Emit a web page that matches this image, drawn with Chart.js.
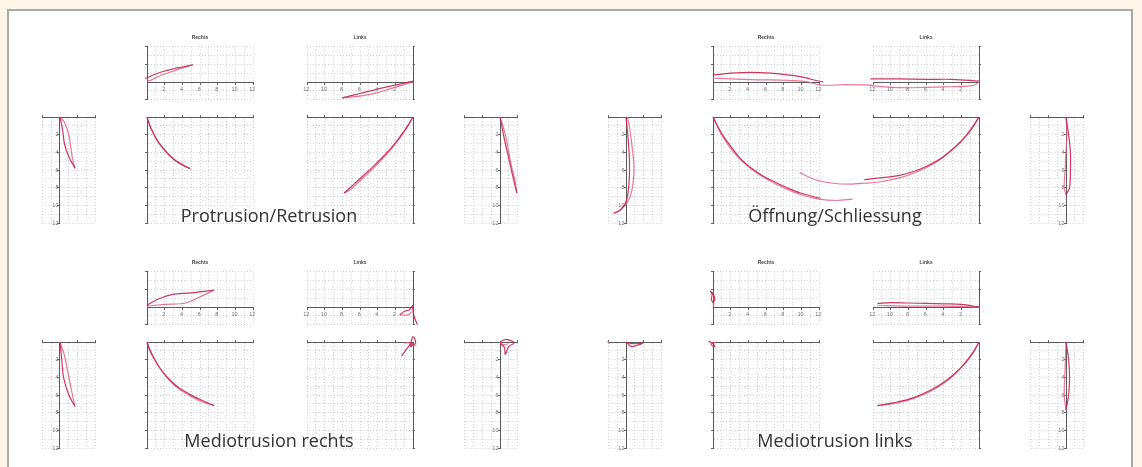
<!DOCTYPE html>
<html lang="de">
<head>
<meta charset="UTF-8">
<title>Bewegungsspuren</title>
<script src="https://cdn.jsdelivr.net/npm/chart.js"></script>
<style>
  html, body { margin: 0; padding: 0; background: #fdf5e8; width: 1142px; height: 467px; overflow: hidden; }
  #panel { position: absolute; left: 7px; top: 9px; width: 1122px; height: 480px; background: #fff; border: 2px solid #a9a9a9; }
  canvas.mini { position: absolute; }
  .gtitle { position: absolute; font-family: "Open Sans", sans-serif; font-size: 18px; color: #333;
            transform: translate(-50%, -50%); white-space: nowrap; }
</style>
</head>
<body>
<div id="panel"></div>
<script>
  // tick labels
  const evenTicks = [2, 4, 6, 8, 10, 12];
  const sideXTicks = [-2, 2, 4];
  const topYTicks = [-2, 2, 4];

  const groupNames = ['Protrusion/Retrusion', 'Öffnung/Schliessung', 'Mediotrusion rechts', 'Mediotrusion links'];
  const sideTitles = ['Rechts', 'Links'];

  // Protrusion/Retrusion  [x, y] in mm
  const prSideL_a = [[0,0],[0.3,1.5],[0.5,3.0],[1.0,4.5],[1.7,5.8]];
  const prSideL_b = [[1.7,5.8],[1.4,4.6],[1.2,3.3],[1.0,2.0],[0.5,0.6],[0,0]];
  const prTopR_a = [[-0.2,0.4],[1,0.9],[2,1.25],[3,1.5],[4,1.7],[5.2,1.95]];
  const prTopR_b = [[5.2,1.95],[4,1.6],[3,1.25],[2,0.9],[1,0.5],[0.3,0.15],[0,0.3]];
  const prBotR_a = [[0,0],[0.3,0.9],[0.7,1.8],[1.2,2.7],[1.8,3.5],[2.5,4.3],[3.3,5.0],[4.1,5.5],[4.9,5.85]];
  const prBotR_b = [[4.9,5.85],[4.0,5.35],[3.1,4.8],[2.3,4.1],[1.6,3.3],[1.0,2.4],[0.5,1.4],[0.15,0.5],[0,0]];
  const prTopL_a = [[0,0.1],[2,-0.35],[4,-0.8],[6,-1.3],[8,-1.8]];
  const prTopL_b = [[8,-1.8],[6,-1.6],[4,-1.2],[2.5,-0.75],[1.2,-0.35],[0,0]];
  const prBotL_a = [[0,0],[0.6,1.0],[1.3,2.0],[2.3,3.3],[3.4,4.5],[4.6,5.7],[5.8,6.8],[6.9,7.8],[7.8,8.6]];
  const prBotL_b = [[7.8,8.6],[7.2,8.3],[6.2,7.4],[5.0,6.3],[3.8,5.1],[2.6,3.8],[1.5,2.4],[0.7,1.2],[0,0]];
  const prSideR_a = [[0,0],[-0.3,1.5],[-0.6,3],[-1.0,4.7],[-1.4,6.5],[-1.9,8.6]];
  const prSideR_b = [[-1.9,8.6],[-1.7,7.2],[-1.3,5.6],[-1.0,4.0],[-0.7,2.4],[-0.3,0.9],[0,0]];

  // Öffnung/Schliessung
  const oeSideL_a = [[0,0],[0.2,2],[0.35,4],[0.4,6],[0.3,8],[0,9.6],[-0.7,10.6],[-1.4,10.9]];
  const oeSideL_b = [[-1.4,10.9],[-0.4,10.3],[0.4,9.2],[0.8,7.5],[0.9,5.5],[0.7,3.5],[0.45,1.5],[0.2,0.2],[0,0]];
  const oeTopR_a = [[0,0.8],[2,1.0],[4.2,1.1],[6.5,1.0],[9.9,0.6],[12.5,0],[14.8,-0.1],[18,-0.35]];
  const oeTopR_b = [[18,-0.35],[15,-0.3],[12.2,-0.35],[10.5,0.05],[8,0.2],[5,0.25],[2,0.35],[0,0.45]];
  const oeBotR_a = [[0,0],[0.5,1.0],[1.2,2.2],[2.3,3.7],[3.2,4.8],[4.2,5.7],[5.7,6.7],[7.3,7.5],[8.6,8.1],[9.9,8.6],[12.2,9.2],[14,9.35],[15.8,9.3]];
  const oeBotR_b = [[15.8,9.3],[14,9.45],[12,9.3],[10,8.8],[8,8.0],[6,7.0],[4.5,6.0],[3,4.7],[1.8,3.3],[0.8,1.7],[0.2,0.4],[0,0]];
  const oeTopL_a = [[0,0.1],[3,0.3],[6,0.3],[9,0.35],[12.3,0.35]];
  const oeTopL_b = [[12.3,-0.4],[10,-0.6],[8,-0.65],[6,-0.6],[4,-0.55],[2,-0.5],[0.6,-0.4],[0,0]];
  const oeBotL_a = [[0,0],[0.6,1.0],[1.5,2.2],[2.7,3.4],[4.2,4.6],[6,5.6],[7.5,6.2],[9,6.6],[11.2,6.9],[13,7.1],[14.7,7.2],[16.5,7.1],[18.5,6.8],[20.3,6.3]];
  const oeBotL_b = [[20.3,6.3],[18.5,7.1],[16.5,7.5],[14.7,7.6],[13,7.5],[11,7.3],[9,6.9],[7,6.2],[5,5.2],[3.5,4.1],[2,2.7],[0.8,1.2],[0,0]];
  const oeSideR_a = [[0,0],[-0.3,2],[-0.5,4],[-0.5,6],[-0.4,8],[0,8.8]];
  const oeSideR_b = [[0,8.8],[0.2,8.0],[0.1,6],[0,4],[-0.1,2],[0,0]];

  // Mediotrusion rechts
  const mrSideL_a = [[0,0],[0.2,2],[0.4,4],[1.0,6],[1.7,7.3]];
  const mrSideL_b = [[1.7,7.3],[1.3,5.5],[0.9,3.5],[0.5,1.5],[0,0]];
  const mrTopR_a = [[0,0.2],[1.3,0.9],[2.8,1.4],[5,1.6],[7.6,1.9]];
  const mrTopR_b = [[7.6,1.9],[5.9,1.1],[4.4,0.45],[2,0.3],[0,0.1]];
  const mrBotR_a = [[0,0],[0.3,0.9],[0.8,1.9],[1.5,3.0],[2.4,4.1],[3.5,5.1],[4.8,5.9],[6.2,6.6],[7.6,7.2]];
  const mrBotR_b = [[7.6,7.2],[6.3,6.8],[4.9,6.1],[3.6,5.3],[2.5,4.3],[1.6,3.2],[0.9,2.0],[0.35,0.9],[0,0]];
  const mrTopL_a = [[1.5,-0.9],[1.0,-0.5],[0.4,-0.3],[0,0.2],[0,-0.5],[-0.2,-1.3],[-0.5,-2.0]];
  const mrTopL_b = [[1.5,-0.9],[0.6,-0.9],[0.2,-0.6]];
  const mrBotL_a = [[1.3,1.6],[0.8,0.9],[0.3,0.2],[0,-0.6],[-0.3,0.1],[0.3,0.5],[0,0]];
  const mrBotL_b = [[0.9,0.1],[0.4,0.1],[0,0.3],[-0.4,0.4]];
  const mrSideR_a = [[0,0],[-0.7,-0.3],[-1.6,0.1],[-1.0,0.5],[-0.6,1.4],[-0.5,0.6],[0,0.2]];
  const mrSideR_b = [[0,0],[-0.4,0.3],[-0.9,0.2]];

  // Mediotrusion links
  const mlSideL_a = [[0,0],[0.6,0.5],[1.2,0.4],[1.9,0.15],[1.2,0.2],[0.5,0.15],[0,0]];
  const mlSideL_b = [[-2.1,0],[-1.9,0.15],[-2.0,-0.1]];
  const mlTopR_a = [[0,0.5],[-0.2,0.9],[-0.1,1.4],[-0.3,1.8],[0.1,1.3],[0.2,0.8],[0,0.5]];
  const mlTopR_b = [[0,0],[0.1,0.3],[0,0.6]];
  const mlBotR_a = [[-0.5,-0.1],[0,0.2],[0.2,0.5],[-0.2,0.3],[0,0]];
  const mlBotR_b = [[0,0],[0.3,0.1]];
  const mlTopL_a = [[11.5,0.4],[10,0.5],[8,0.45],[6,0.4],[4,0.35],[2,0.3],[0,0]];
  const mlTopL_b = [[11.5,0.2],[8,0.1],[4,0.1],[0,0]];
  const mlBotL_a = [[0,0],[0.7,1.2],[1.7,2.5],[3,3.8],[4.5,4.9],[6.2,5.8],[8,6.5],[9.8,6.9],[11.5,7.2]];
  const mlBotL_b = [[11.5,7.2],[9.8,7.0],[8,6.6],[6.2,5.9],[4.5,5.0],[3,3.9],[1.7,2.6],[0.7,1.3],[0,0]];
  const mlSideR_a = [[0,0],[-0.3,2],[-0.4,4],[-0.3,6],[0,7.7]];
  const mlSideR_b = [[0,7.7],[0.2,6],[0.1,3],[0,0]];

  const groupSeries = [
    { sideL: [prSideL_a, prSideL_b], topR: [prTopR_a, prTopR_b], botR: [prBotR_a, prBotR_b],
      topL: [prTopL_a, prTopL_b], botL: [prBotL_a, prBotL_b], sideR: [prSideR_a, prSideR_b] },
    { sideL: [oeSideL_a, oeSideL_b], topR: [oeTopR_a, oeTopR_b], botR: [oeBotR_a, oeBotR_b],
      topL: [oeTopL_a, oeTopL_b], botL: [oeBotL_a, oeBotL_b], sideR: [oeSideR_a, oeSideR_b] },
    { sideL: [mrSideL_a, mrSideL_b], topR: [mrTopR_a, mrTopR_b], botR: [mrBotR_a, mrBotR_b],
      topL: [mrTopL_a, mrTopL_b], botL: [mrBotL_a, mrBotL_b], sideR: [mrSideR_a, mrSideR_b] },
    { sideL: [mlSideL_a, mlSideL_b], topR: [mlTopR_a, mlTopR_b], botR: [mlBotR_a, mlBotR_b],
      topL: [mlTopL_a, mlTopL_b], botL: [mlBotL_a, mlBotL_b], sideR: [mlSideR_a, mlSideR_b] }
  ];

  // layout
  const U = 106 / 12;                   // px per mm
  const groupOffsets = [[0, 0], [566, 0], [0, 225], [566, 225]];
  const groupTitlePos = [269, 215];
  const origins = { sideL: [60, 117], topR: [147, 82], botR: [147, 117], topL: [413, 82], botL: [413, 117], sideR: [500, 117] };
  const kinds = {
    sideL: { x: [-2, 4, false], y: [0, 12, true], xPos: 'top', yPos: { x: 0 }, lu: 2, tu: 0, xl: sideXTicks, yl: evenTicks },
    sideR: { x: [-2, 4, true], y: [0, 12, true], xPos: 'top', yPos: { x: 0 }, lu: 4, tu: 0, xl: sideXTicks, yl: evenTicks },
    topR: { x: [0, 12, false], y: [-2, 4, false], xPos: { y: 0 }, yPos: 'left', lu: 0, tu: 4, xl: evenTicks, yl: topYTicks, title: 0 },
    topL: { x: [0, 12, true], y: [-2, 4, false], xPos: { y: 0 }, yPos: 'right', lu: 12, tu: 4, xl: evenTicks, yl: topYTicks, title: 1 },
    botR: { x: [0, 12, false], y: [0, 12, true], xPos: 'top', yPos: 'left', lu: 0, tu: 0, xl: evenTicks, yl: evenTicks },
    botL: { x: [0, 12, true], y: [0, 12, true], xPos: 'top', yPos: 'right', lu: 12, tu: 0, xl: evenTicks, yl: evenTicks }
  };
  // extra room where traces run past the axes (Öffnung/Schliessung)
  const extraPad = { '1.topR': { right: 62 }, '1.botR': { right: 42 }, '1.botL': { left: 84 } };

  const lineColors = ['rgba(198,36,78,0.9)', 'rgba(226,96,128,0.85)'];
  const TITLE_H = 5 * 1.2 + 6;

  function axis(range, position, labels) {
    const edge = typeof position === 'string';
    return {
      type: 'linear', min: range[0], max: range[1], reverse: range[2], position,
      afterFit: edge ? (s => { if (s.isHorizontal()) s.height = 0; else s.width = 0; }) : undefined,
      ticks: {
        stepSize: 1, autoSkip: false, maxRotation: 0, padding: 2, color: '#707070',
        font: { family: 'Liberation Sans', size: 5.5 },
        // centred y axes put their labels right on the line, so pad them with a space
        callback: v => labels.includes(v) ? (edge ? String(v) : v + ' ') : ''
      },
      grid: {
        color: '#d0d0d0', lineWidth: 1, tickLength: 2, tickWidth: 1,
        tickColor: c => (c.tick && labels.includes(c.tick.value)) ? '#666' : 'rgba(0,0,0,0)'
      },
      border: { color: '#5a5a5a', width: 1, dash: [1, 2] }
    };
  }

  function miniChart(g, key) {
    const k = kinds[key];
    const [ox, oy] = [origins[key][0] + groupOffsets[g][0], origins[key][1] + groupOffsets[g][1]];
    const w = (k.x[1] - k.x[0]) * U, h = (k.y[1] - k.y[0]) * U;
    const left = ox - k.lu * U, top = oy - k.tu * U;
    const ex = extraPad[g + '.' + key] || {};
    const th = k.title !== undefined ? TITLE_H : 0;
    const P = 16;
    const cl = Math.floor(left - (ex.left || P));
    const ct = Math.floor(top - P - th);
    const cw = Math.ceil(left + w + (ex.right || P)) - cl;
    const ch = Math.ceil(top + h + P) - ct;
    const pad = { left: left - cl, top: top - ct - th, right: cw - (left - cl) - w, bottom: ch - (top - ct) - h };

    const c = document.createElement('canvas');
    c.className = 'mini';
    c.width = cw; c.height = ch;
    c.style.left = cl + 'px'; c.style.top = ct + 'px';
    document.body.appendChild(c);

    new Chart(c, {
      type: 'scatter',
      data: {
        datasets: groupSeries[g][key].map((pts, i) => ({
          data: pts.map(([x, y]) => ({ x, y })),
          showLine: true, pointRadius: 0, borderWidth: 1.2,
          borderColor: lineColors[i], tension: 0.35, clip: false, fill: false
        }))
      },
      options: {
        responsive: false, animation: false, events: [],
        layout: { padding: pad },
        plugins: {
          legend: { display: false }, tooltip: { enabled: false },
          title: {
            display: th > 0, text: th > 0 ? sideTitles[k.title] : '', fullSize: false,
            color: '#444', font: { family: 'Liberation Sans', size: 5 }, padding: { top: 0, bottom: 6 }
          }
        },
        scales: { x: axis(k.x, k.xPos, k.xl), y: axis(k.y, k.yPos, k.yl) }
      }
    });
  }

  groupNames.forEach((name, g) => {
    Object.keys(kinds).forEach(key => miniChart(g, key));
    const t = document.createElement('div');
    t.className = 'gtitle';
    t.textContent = name;
    t.style.left = (groupTitlePos[0] + groupOffsets[g][0]) + 'px';
    t.style.top = (groupTitlePos[1] + groupOffsets[g][1]) + 'px';
    document.body.appendChild(t);
  });
</script>
</body>
</html>
